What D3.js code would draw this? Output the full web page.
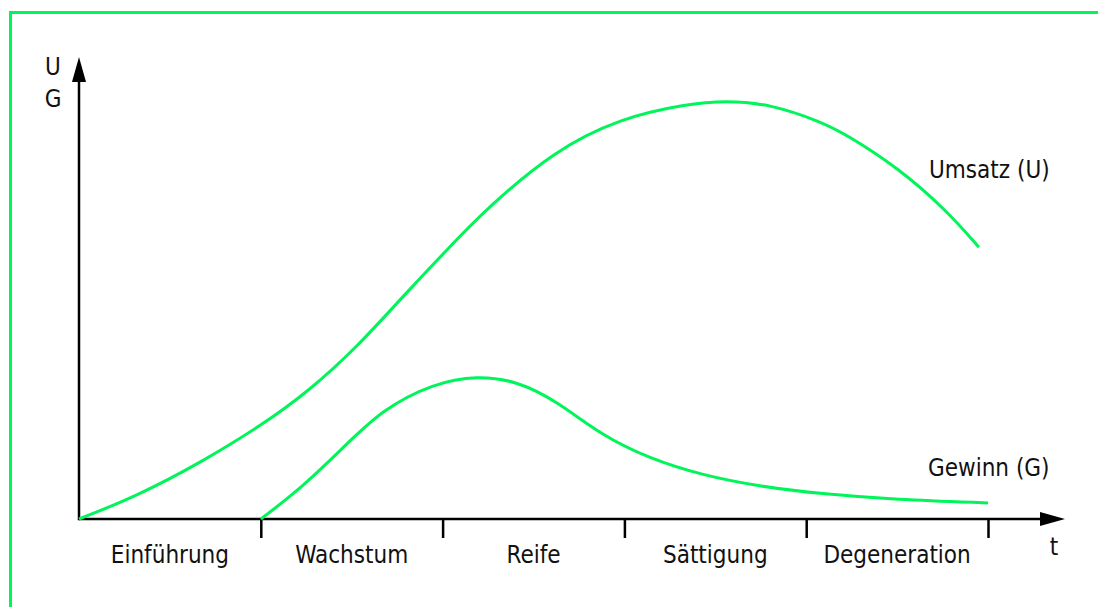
<!DOCTYPE html>
<html lang="de">
<head>
    <meta charset="UTF-8">
    <title>Produktlebenszyklus</title>
    <style>
        body { margin: 0; background: #fff; }
        text { font-family: "DejaVu Sans Condensed", "DejaVu Sans", sans-serif; font-stretch: condensed; fill: #111; }
    </style>
</head>
<body>
<div id="content"></div>

<script src="https://d3js.org/d3.v7.min.js"></script>
<script>

    // phases on the time axis
    var phases = ["Einführung", "Wachstum", "Reife", "Sättigung", "Degeneration"];

    // Umsatz (U) curve, x in phase units, y in arbitrary units
    var umsatzX = [0, 0.32, 0.68, 1.01, 1.27, 1.53, 1.78, 2.03, 2.24, 2.61, 2.98, 3.34, 3.56, 3.80, 4.08, 4.22, 4.50, 4.77, 4.95];
    var umsatzY = [0, 5.0, 12.5, 20.5, 28.0, 37.4, 48.3, 58.8, 67.4, 80.0, 87.2, 90.2, 91.0, 90.2, 86.4, 83.6, 76.5, 67.2, 59.1];

    // Gewinn (G) curve
    var gewinnX = [1.0, 1.21, 1.44, 1.67, 1.95, 2.19, 2.41, 2.63, 2.87, 3.14, 3.42, 3.75, 4.10, 4.49, 5.0];
    var gewinnY = [0, 6.3, 15.0, 23.9, 29.5, 31.2, 30.0, 25.6, 18.3, 13.1, 9.6, 7.0, 5.4, 4.2, 3.5];

    var seriesLabels = ["Umsatz (U)", "Gewinn (G)"];
    var yLabels = ["U", "G"];
    var tLabel = "t";

    var width = 1098, height = 607;
    var green = "#00f55a";

    var svg = d3.select("#content")
        .append("svg")
        .attr("width", width)
        .attr("height", height);

    // frame (only top and left edges are visible)
    svg.append("path")
        .attr("d", "M10.5,607 V12.5 H1098")
        .attr("fill", "none")
        .attr("stroke", green)
        .attr("stroke-width", 3);

    //set Scales
    var xScale = d3.scaleLinear().domain([0, 5]).range([79, 988]);
    var yScale = d3.scaleLinear().domain([0, 100]).range([519, 59]);

    // x axis with ticks at the phase boundaries
    var xAxis = d3.axisBottom(xScale)
        .tickValues([1, 2, 3, 4, 5])
        .tickSize(19)
        .tickSizeOuter(0)
        .tickFormat("");

    var xAxisG = svg.append("g")
        .attr("transform", "translate(0," + yScale(0) + ")")
        .call(xAxis);
    xAxisG.select(".domain").remove();
    xAxisG.selectAll(".tick line").attr("stroke", "#000").attr("stroke-width", 2.5);

    // axis lines + arrows
    var x0 = xScale(0), y0 = yScale(0);
    svg.append("line")
        .attr("x1", x0).attr("y1", y0).attr("x2", 1042).attr("y2", y0)
        .attr("stroke", "#000").attr("stroke-width", 2.5);
    svg.append("line")
        .attr("x1", x0).attr("y1", y0 + 1.25).attr("x2", x0).attr("y2", 80)
        .attr("stroke", "#000").attr("stroke-width", 2.5);
    svg.append("path")
        .attr("d", "M1065," + y0 + " L1040," + (y0 - 7) + " L1040," + (y0 + 7) + "Z")
        .attr("fill", "#000");
    svg.append("path")
        .attr("d", "M" + x0 + ",57 L" + (x0 - 7) + ",82 L" + (x0 + 7) + ",82Z")
        .attr("fill", "#000");

    // phase labels between the ticks
    svg.selectAll(".phase")
        .data(phases)
        .enter().append("text")
        .attr("class", "phase")
        .attr("x", function (d, i) { return xScale(i + 0.5); })
        .attr("y", 563)
        .attr("text-anchor", "middle")
        .attr("font-size", 24)
        .text(function (d) { return d; });

    svg.append("text")
        .attr("x", 1054).attr("y", 555)
        .attr("text-anchor", "middle")
        .attr("font-size", 24)
        .text(tLabel);

    svg.selectAll(".ylab")
        .data(yLabels)
        .enter().append("text")
        .attr("class", "ylab")
        .attr("x", 53)
        .attr("y", function (d, i) { return 75 + i * 32; })
        .attr("text-anchor", "middle")
        .attr("font-size", 24)
        .text(function (d) { return d; });

    //line helper function
    var lineSegment = d3.line()
        .x(function (d) { return xScale(d.x); })
        .y(function (d) { return yScale(d.y); })
        .curve(d3.curveBasis);

    function zip(xs, ys) {
        return xs.map(function (x, i) { return {x: x, y: ys[i]}; });
    }

    [zip(umsatzX, umsatzY), zip(gewinnX, gewinnY)].forEach(function (data) {
        svg.append("path")
            .datum(data)
            .attr("d", lineSegment)
            .attr("fill", "none")
            .attr("stroke", green)
            .attr("stroke-width", 3);
    });

    // series labels
    svg.append("text")
        .attr("x", 929).attr("y", 178)
        .attr("font-size", 24)
        .text(seriesLabels[0]);
    svg.append("text")
        .attr("x", 928).attr("y", 476)
        .attr("font-size", 24)
        .text(seriesLabels[1]);

</script>
</body>
</html>
